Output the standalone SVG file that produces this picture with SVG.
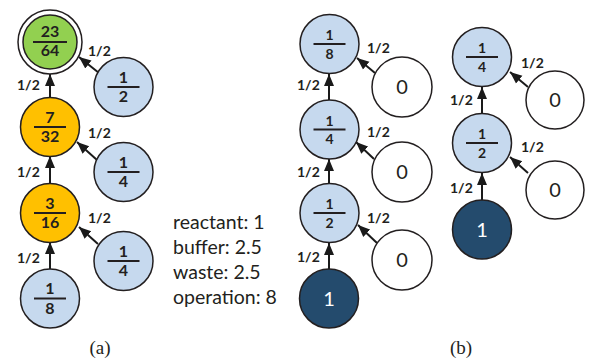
<svg xmlns="http://www.w3.org/2000/svg" width="589" height="361" viewBox="0 0 589 361">
  <defs>
    <marker id="ah" markerUnits="userSpaceOnUse" markerWidth="12" markerHeight="12" viewBox="0 0 12 10" refX="12" refY="5" orient="auto">
      <path d="M0,0 L12,5 L0,10 Z" fill="#1a1a1a"/>
    </marker>
  </defs>
  <style>
    .n { stroke: #231f20; stroke-width: 1.5; }
    .blue { fill: #c6d9ee; }
    .green { fill: #92d050; }
    .gold { fill: #ffc000; }
    .dark { fill: #244b6d; }
    .white { fill: #ffffff; }
    .bar { stroke: #231f20; stroke-width: 2; }
    .fa { font-family: Lato, "Open Sans", sans-serif; font-weight: bold; font-size: 16px; fill: #231f20; text-anchor: middle; }
    .fb { font-family: Lato, "Open Sans", sans-serif; font-weight: bold; font-size: 14px; fill: #231f20; text-anchor: middle; }
    .big { font-family: Lato, "Open Sans", sans-serif; font-size: 20px; text-anchor: middle; }
    .lbl { font-family: Lato, "Open Sans", sans-serif; font-weight: bold; font-size: 14px; fill: #231f20; }
    .leg { font-family: Lato, "Open Sans", sans-serif; font-size: 19.5px; fill: #231f20; }
    .cap { font-family: "Liberation Serif", serif; font-size: 19px; fill: #231f20; text-anchor: middle; }
    .e { stroke: #1a1a1a; stroke-width: 2; fill: none; marker-end: url(#ah); }
  </style>

  <!-- connectors -->
  <g id="connectors">
    <!-- (a) -->
    <line class="e" x1="50" y1="98" x2="50" y2="74"/>
    <line class="e" x1="50" y1="184" x2="50" y2="156"/>
    <line class="e" x1="50" y1="269" x2="50" y2="242"/>
    <line class="e" x1="99" y1="73" x2="79" y2="57"/>
    <line class="e" x1="97" y1="160" x2="77" y2="142"/>
    <line class="e" x1="98" y1="244" x2="79" y2="227"/>
    <!-- (b) left column -->
    <line class="e" x1="329" y1="100" x2="329" y2="74"/>
    <line class="e" x1="329" y1="184" x2="329" y2="159"/>
    <line class="e" x1="329" y1="269" x2="329" y2="243"/>
    <line class="e" x1="375" y1="73" x2="357" y2="58"/>
    <line class="e" x1="374" y1="159" x2="356" y2="142"/>
    <line class="e" x1="377" y1="243" x2="358" y2="225"/>
    <!-- (b) right column -->
    <line class="e" x1="482" y1="113" x2="482" y2="87"/>
    <line class="e" x1="482" y1="200" x2="482" y2="173"/>
    <line class="e" x1="528" y1="87" x2="510" y2="72"/>
    <line class="e" x1="528" y1="173" x2="510" y2="157"/>
    <!-- edge labels -->
    <text class="lbl" x="17" y="90">1/2</text>
    <text class="lbl" x="17" y="177">1/2</text>
    <text class="lbl" x="17" y="263">1/2</text>
    <text class="lbl" x="88" y="56">1/2</text>
    <text class="lbl" x="88" y="138">1/2</text>
    <text class="lbl" x="88" y="223">1/2</text>
    <text class="lbl" x="297" y="90">1/2</text>
    <text class="lbl" x="297" y="177">1/2</text>
    <text class="lbl" x="297" y="262">1/2</text>
    <text class="lbl" x="367" y="53">1/2</text>
    <text class="lbl" x="367" y="137">1/2</text>
    <text class="lbl" x="367" y="223">1/2</text>
    <text class="lbl" x="450" y="105">1/2</text>
    <text class="lbl" x="450" y="193">1/2</text>
    <text class="lbl" x="521" y="68">1/2</text>
    <text class="lbl" x="521" y="152">1/2</text>
  </g>

  <!-- (a) nodes -->
  <g id="a-root">
    <circle class="n white" cx="50" cy="42" r="32"/>
    <circle class="n green" cx="50" cy="42" r="27"/>
    <text class="fa" x="50" y="37">23</text>
    <line class="bar" x1="33" y1="42" x2="67" y2="42"/>
    <text class="fa" x="50" y="56">64</text>
  </g>
  <g id="a-half">
    <circle class="n blue" cx="123.5" cy="87" r="29.5"/>
    <text class="fa" x="123.5" y="82.5">1</text>
    <line class="bar" x1="107.5" y1="87" x2="139.5" y2="87"/>
    <text class="fa" x="123.5" y="102">2</text>
  </g>
  <g id="a-mix2">
    <circle class="n gold" cx="50" cy="127" r="29.5"/>
    <text class="fa" x="50" y="122.5">7</text>
    <line class="bar" x1="34" y1="127" x2="66" y2="127"/>
    <text class="fa" x="50" y="142">32</text>
  </g>
  <g id="a-quarter1">
    <circle class="n blue" cx="123.5" cy="172" r="29.5"/>
    <text class="fa" x="123.5" y="167.5">1</text>
    <line class="bar" x1="107.5" y1="172" x2="139.5" y2="172"/>
    <text class="fa" x="123.5" y="187">4</text>
  </g>
  <g id="a-mix1">
    <circle class="n gold" cx="50" cy="213" r="29.5"/>
    <text class="fa" x="50" y="208.5">3</text>
    <line class="bar" x1="34" y1="213" x2="66" y2="213"/>
    <text class="fa" x="50" y="228">16</text>
  </g>
  <g id="a-quarter2">
    <circle class="n blue" cx="123.5" cy="261" r="29.5"/>
    <text class="fa" x="123.5" y="256.5">1</text>
    <line class="bar" x1="107.5" y1="261" x2="139.5" y2="261"/>
    <text class="fa" x="123.5" y="276">4</text>
  </g>
  <g id="a-eighth">
    <circle class="n blue" cx="50" cy="298.5" r="29.5"/>
    <text class="fa" x="50" y="294">1</text>
    <line class="bar" x1="34" y1="298.5" x2="66" y2="298.5"/>
    <text class="fa" x="50" y="313.5">8</text>
  </g>

  <g id="legend">
    <text class="leg" x="173" y="229">reactant: 1</text>
    <text class="leg" x="173" y="254">buffer: 2.5</text>
    <text class="leg" x="173" y="279">waste: 2.5</text>
    <text class="leg" x="173" y="304">operation: 8</text>
  </g>

  <!-- (b) left column -->
  <g id="b1-eighth">
    <circle class="n blue" cx="329.5" cy="44" r="29.5"/>
    <text class="fb" x="329.5" y="40">1</text>
    <line class="bar" x1="313.5" y1="44" x2="345.5" y2="44"/>
    <text class="fb" x="329.5" y="58.5">8</text>
  </g>
  <g id="b1-zero1">
    <circle class="n white" cx="402" cy="87" r="30"/>
    <text class="big" x="402" y="94" fill="#231f20">0</text>
  </g>
  <g id="b1-quarter">
    <circle class="n blue" cx="329.5" cy="129.5" r="29.5"/>
    <text class="fb" x="329.5" y="125.5">1</text>
    <line class="bar" x1="313.5" y1="129.5" x2="345.5" y2="129.5"/>
    <text class="fb" x="329.5" y="144">4</text>
  </g>
  <g id="b1-zero2">
    <circle class="n white" cx="402" cy="172" r="30"/>
    <text class="big" x="402" y="179" fill="#231f20">0</text>
  </g>
  <g id="b1-half">
    <circle class="n blue" cx="329.5" cy="213" r="29.5"/>
    <text class="fb" x="329.5" y="209">1</text>
    <line class="bar" x1="313.5" y1="213" x2="345.5" y2="213"/>
    <text class="fb" x="329.5" y="227.5">2</text>
  </g>
  <g id="b1-zero3">
    <circle class="n white" cx="402" cy="260" r="30"/>
    <text class="big" x="402" y="267" fill="#231f20">0</text>
  </g>
  <g id="b1-one">
    <circle class="n dark" cx="329" cy="298.5" r="29.5"/>
    <text class="big" x="329" y="305.5" fill="#ffffff">1</text>
  </g>

  <!-- (b) right column -->
  <g id="b2-quarter">
    <circle class="n blue" cx="482" cy="57" r="29.5"/>
    <text class="fb" x="482" y="53">1</text>
    <line class="bar" x1="466" y1="57" x2="498" y2="57"/>
    <text class="fb" x="482" y="71.5">4</text>
  </g>
  <g id="b2-zero1">
    <circle class="n white" cx="555" cy="100" r="29"/>
    <text class="big" x="555" y="107" fill="#231f20">0</text>
  </g>
  <g id="b2-half">
    <circle class="n blue" cx="482" cy="143" r="29.5"/>
    <text class="fb" x="482" y="139">1</text>
    <line class="bar" x1="466" y1="143" x2="498" y2="143"/>
    <text class="fb" x="482" y="157.5">2</text>
  </g>
  <g id="b2-zero2">
    <circle class="n white" cx="555" cy="190" r="29"/>
    <text class="big" x="555" y="197" fill="#231f20">0</text>
  </g>
  <g id="b2-one">
    <circle class="n dark" cx="482" cy="229.5" r="29.5"/>
    <text class="big" x="482" y="236.5" fill="#ffffff">1</text>
  </g>

  <text class="cap" x="100" y="354">(a)</text>
  <text class="cap" x="461" y="354">(b)</text>
</svg>
